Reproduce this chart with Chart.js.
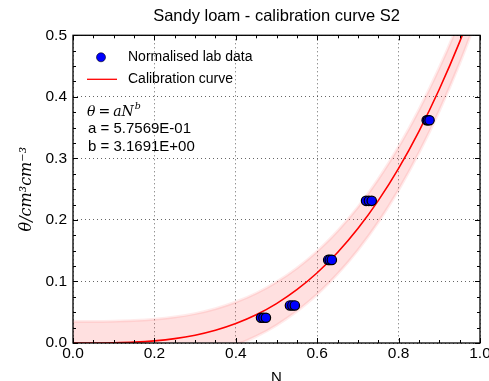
<!DOCTYPE html>
<html>
<head>
<meta charset="utf-8">
<script src="https://cdn.jsdelivr.net/npm/chart.js@4.4.0/dist/chart.umd.min.js"></script>
<style>
  html, body { margin:0; padding:0; background:#fff; }
  #wrap { width:489px; height:381px; }
</style>
</head>
<body>
<div id="wrap"><canvas id="myChart" width="489" height="381"></canvas></div>
<script>
// lab data (normalised)
const labN     = [0.462, 0.468, 0.474, 0.533, 0.539, 0.545, 0.627, 0.631, 0.636, 0.720, 0.727, 0.734, 0.869, 0.872, 0.876];
const labTheta = [0.041, 0.041, 0.041, 0.061, 0.061, 0.061, 0.135, 0.135, 0.135, 0.231, 0.231, 0.231, 0.362, 0.362, 0.362];

// calibration curve
const curveN     = [0, 0.05, 0.1, 0.15, 0.2, 0.25, 0.3, 0.35, 0.4, 0.45, 0.5, 0.55, 0.6, 0.65, 0.7, 0.75, 0.8, 0.85, 0.9, 0.95, 1.0];
const curveTheta = [0, 0.0000, 0.0004, 0.0014, 0.0035, 0.0071, 0.0127, 0.0207, 0.0316, 0.0458, 0.0640, 0.0866, 0.1141, 0.1470, 0.1859, 0.2313, 0.2838, 0.3440, 0.4123, 0.4893, 0.5757];
const bandUpper  = [0.0350, 0.0350, 0.0354, 0.0364, 0.0385, 0.0421, 0.0477, 0.0557, 0.0666, 0.0808, 0.0990, 0.1216, 0.1491, 0.1820, 0.2209, 0.2663, 0.3188, 0.3790, 0.4473, 0.5243, 0.6107];
const bandLower  = [-0.0350, -0.0350, -0.0346, -0.0336, -0.0315, -0.0279, -0.0223, -0.0143, -0.0034, 0.0108, 0.0290, 0.0516, 0.0791, 0.1120, 0.1509, 0.1963, 0.2488, 0.3090, 0.3773, 0.4543, 0.5407];

const fitA = '5.7569E-01';
const fitB = '3.1691E+00';

const sans = '"Liberation Sans", Arial, sans-serif';
const serif = '"DejaVu Serif", serif';

function pts(xs, ys) {
  return xs.map(function(x, i) { return {x: x, y: ys[i]}; });
}

// frame, inward ticks on all four sides, legend and fit text
const decorations = {
  id: 'decorations',
  afterDatasetsDraw(chart) {
    const ctx = chart.ctx;
    const a = chart.chartArea;
    const xs = chart.scales.x, ys = chart.scales.y;
    ctx.save();
    ctx.strokeStyle = '#000';
    ctx.lineWidth = 1;
    ctx.beginPath();
    for (let i = 0; i <= 20; i++) {
      const px = Math.round(xs.getPixelForValue(i * 0.05)) + 0.5;
      const len = (i % 4 === 0) ? 5 : 3;
      ctx.moveTo(px, a.bottom); ctx.lineTo(px, a.bottom - len);
      ctx.moveTo(px, a.top); ctx.lineTo(px, a.top + len);
    }
    for (let i = 0; i <= 20; i++) {
      const py = Math.round(ys.getPixelForValue(i * 0.025)) + 0.5;
      const len = (i % 4 === 0) ? 5 : 3;
      ctx.moveTo(a.left, py); ctx.lineTo(a.left + len, py);
      ctx.moveTo(a.right, py); ctx.lineTo(a.right - len, py);
    }
    ctx.stroke();
    ctx.lineWidth = 1.3;
    ctx.strokeRect(a.left, a.top, a.right - a.left, a.bottom - a.top);

    // legend
    const lx = a.left, ly = a.top;
    ctx.fillStyle = '#0000ff';
    ctx.strokeStyle = '#000';
    ctx.lineWidth = 0.6;
    ctx.beginPath();
    ctx.arc(lx + 28, ly + 22, 4.5, 0, Math.PI * 2);
    ctx.fill(); ctx.stroke();
    ctx.strokeStyle = '#ff0000';
    ctx.lineWidth = 1.3;
    ctx.beginPath();
    ctx.moveTo(lx + 14, ly + 44); ctx.lineTo(lx + 44, ly + 44);
    ctx.stroke();
    ctx.fillStyle = '#000';
    ctx.textBaseline = 'middle';
    ctx.font = '14px ' + sans;
    ctx.fillText('Normalised lab data', lx + 55, ly + 22);
    ctx.fillText('Calibration curve', lx + 55, ly + 44);

    // fit equation
    let tx = lx + 14;
    const ty = ly + 77;
    ctx.font = 'italic 14px ' + serif;
    ctx.fillText('\u03b8', tx, ty); tx += ctx.measureText('\u03b8').width + 3;
    ctx.font = '14px ' + serif;
    ctx.fillText('=', tx, ty); tx += ctx.measureText('=').width + 3;
    ctx.font = 'italic 14px ' + serif;
    ctx.fillText('aN', tx, ty); tx += ctx.measureText('aN').width;
    ctx.font = 'italic 9.5px ' + serif;
    ctx.fillText('b', tx + 1, ty - 6);
    ctx.font = '15px ' + sans;
    ctx.fillText('a = ' + fitA, lx + 15, ly + 94);
    ctx.fillText('b = ' + fitB, lx + 15, ly + 112);
    ctx.restore();
  }
};

const ctx = document.getElementById('myChart').getContext('2d');
const calChart = new Chart(ctx, {
  type: 'scatter',
  data: {
    datasets: [{
      label: 'Normalised lab data',
      data: pts(labN, labTheta),
      backgroundColor: '#0000ff',
      borderColor: '#000',
      borderWidth: 1.2,
      pointRadius: 4.7,
      order: 0
    }, {
      label: 'Calibration curve',
      data: pts(curveN, curveTheta),
      showLine: true,
      borderColor: '#ff0000',
      borderWidth: 1.6,
      pointRadius: 0,
      cubicInterpolationMode: 'monotone',
      clip: 0,
      order: 1
    }, {
      label: 'upper',
      data: pts(curveN, bandUpper),
      showLine: true,
      borderColor: 'rgba(255,0,0,0.08)',
      borderWidth: 3,
      backgroundColor: 'rgba(255,0,0,0.12)',
      pointRadius: 0,
      cubicInterpolationMode: 'monotone',
      fill: '+1',
      clip: 0,
      order: 2
    }, {
      label: 'lower',
      data: pts(curveN, bandLower),
      showLine: true,
      borderColor: 'rgba(255,0,0,0.08)',
      borderWidth: 3,
      pointRadius: 0,
      cubicInterpolationMode: 'monotone',
      fill: false,
      clip: 0,
      order: 3
    }]
  },
  options: {
    responsive: false,
    animation: false,
    layout: { padding: { left: 0, right: 9, top: 0, bottom: 0 } },
    scales: {
      x: {
        type: 'linear',
        min: 0, max: 1,
        grid: { color: 'rgba(0,0,0,0.6)', drawTicks: false },
        border: { display: false, dash: [1, 3] },
        ticks: {
          stepSize: 0.2, padding: 1, color: '#000',
          font: { family: sans, size: 15.5 },
          maxRotation: 0,
          callback: function(v) { return v.toFixed(1); }
        },
        title: {
          display: true, text: 'N', color: '#000',
          font: { family: sans, size: 15 },
          padding: { top: 0, bottom: -5.5 }
        },
        afterFit: function(s) { s.height = 38; s.paddingLeft = 0; s.paddingRight = 0; }
      },
      y: {
        type: 'linear',
        min: 0, max: 0.5,
        grid: { color: 'rgba(0,0,0,0.6)', drawTicks: false },
        border: { display: false, dash: [1, 3] },
        ticks: {
          stepSize: 0.1, padding: 6, color: '#000',
          font: { family: sans, size: 15.5 },
          callback: function(v) { return v.toFixed(1); }
        },
        title: {
          display: true, text: '\u03b8/cm\u00b3cm\u207b\u00b3', color: '#000',
          font: { family: serif, size: 16, style: 'italic' },
          padding: { top: 17 }
        },
        afterFit: function(s) { s.width = 73; s.paddingTop = 0; s.paddingBottom = 0; }
      }
    },
    plugins: {
      legend: { display: false },
      tooltip: { enabled: false },
      title: {
        display: true,
        text: 'Sandy loam - calibration curve S2',
        color: '#000',
        fullSize: false,
        font: { family: sans, size: 16.5, weight: 'normal' },
        padding: { top: 7, bottom: 8.5 }
      }
    }
  },
  plugins: [decorations]
});
</script>
</body>
</html>
